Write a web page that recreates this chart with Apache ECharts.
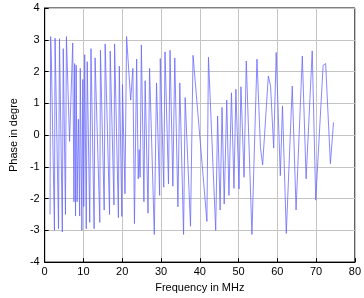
<!DOCTYPE html>
<html><head><meta charset="utf-8">
<script src="https://cdn.jsdelivr.net/npm/echarts@6/dist/echarts.min.js"></script>
<style>html,body{margin:0;padding:0;background:#fff}#c{width:364px;height:298px}</style>
</head><body><div id="c"></div>
<script>
var freq = [1.38,1.54,1.71,2.52,2.68,3.57,3.82,4.55,4.79,5.36,5.61,6.42,7.23,7.55,7.72,7.96,8.12,8.37,8.69,9.02,9.18,9.59,9.83,10.07,10.32,10.72,10.97,11.62,11.94,12.75,13.0,14.22,14.38,15.35,15.6,16.73,16.9,17.87,18.03,19.01,19.25,19.9,20.06,20.71,21.12,22.18,22.75,23.15,23.72,24.13,24.37,24.61,24.94,25.59,25.91,26.65,27.05,28.27,28.84,29.65,29.81,30.71,31.03,31.93,32.33,33.06,33.55,34.36,34.85,35.82,36.23,37.61,38.26,41.84,42.24,44.11,44.6,45.25,45.74,46.3,46.95,47.52,48.17,48.82,49.31,50.12,50.61,51.42,51.99,53.45,54.75,55.65,56.21,57.68,58.25,59.06,59.71,60.77,61.33,62.31,63.85,64.83,66.45,67.42,69.0,69.9,71.81,72.46,73.68,74.49];
var phase = [-2.5,3.1,2.5,-3.0,3.05,-2.95,3.03,-3.05,2.72,-2.5,3.1,-0.2,2.9,-2.1,2.25,-2.55,2.2,-2.1,0.5,-2.55,2.1,-3.0,1.75,-2.25,2.53,-2.95,2.31,-2.75,2.72,-2.95,2.43,-2.75,2.67,-2.36,2.87,-2.5,2.64,-2.2,2.87,-2.6,2.17,-2.56,1.59,-1.85,3.1,1.1,2.1,-2.79,2.39,-1.38,-0.46,-1.33,2.84,-2.1,1.71,-2.46,2.1,-3.13,1.64,-1.9,2.41,-1.64,2.62,-1.54,2.67,-1.61,2.43,-2.26,1.64,-3.13,1.18,-2.87,2.51,-2.72,2.45,-3.0,0.6,-2.36,0.87,-2.17,1.1,-1.9,1.33,-1.68,1.44,-1.7,1.52,-1.33,2.33,-3.13,2.39,-0.4,-0.94,1.86,1.55,-0.41,2.6,-1.28,0.92,-3.1,1.54,-2.36,2.49,-1.38,2.65,-2.05,2.2,2.25,-0.9,0.4];
var xTicks = [0,10,20,30,40,50,60,70,80];
var yTicks = [-4,-3,-2,-1,0,1,2,3,4];
var xTitle = 'Frequency in MHz';
var yTitle = 'Phase in degre';

var pts = freq.map(function(f,i){return [f, phase[i]];});
var chart = echarts.init(document.getElementById('c'), null, {renderer:'canvas'});
var font = 'Liberation Sans, Arial, sans-serif';
chart.setOption({
  animation:false,
  grid:{left:28,right:8,top:8,bottom:29,show:true,borderColor:'#000',borderWidth:1},
  xAxis:{type:'value',min:xTicks[0],max:xTicks[xTicks.length-1],interval:10,
    name:xTitle,nameLocation:'middle',nameGap:17,
    nameTextStyle:{color:'#000',fontFamily:font,fontSize:11},
    axisLine:{onZero:false,lineStyle:{color:'#000'}},
    axisTick:{inside:true,length:4,lineStyle:{color:'#000'}},
    axisLabel:{color:'#000',fontFamily:font,fontSize:11,margin:4},
    splitLine:{show:true,lineStyle:{color:'#c4c4c4',width:1}}},
  yAxis:{type:'value',min:yTicks[0],max:yTicks[yTicks.length-1],interval:1,
    name:yTitle,nameLocation:'middle',nameGap:25,nameRotate:90,
    nameTextStyle:{color:'#000',fontFamily:font,fontSize:11},
    axisLine:{show:true,onZero:false,lineStyle:{color:'#000'}},
    axisTick:{show:true,inside:true,length:4,lineStyle:{color:'#000'}},
    axisLabel:{color:'#000',fontFamily:font,fontSize:11,margin:5},
    splitLine:{show:true,lineStyle:{color:'#c4c4c4',width:1}}},
  series:[{type:'line',data:pts,showSymbol:false,symbol:'none',
    lineStyle:{color:'#6a6aff',width:0.8}}]
});
</script></body></html>
